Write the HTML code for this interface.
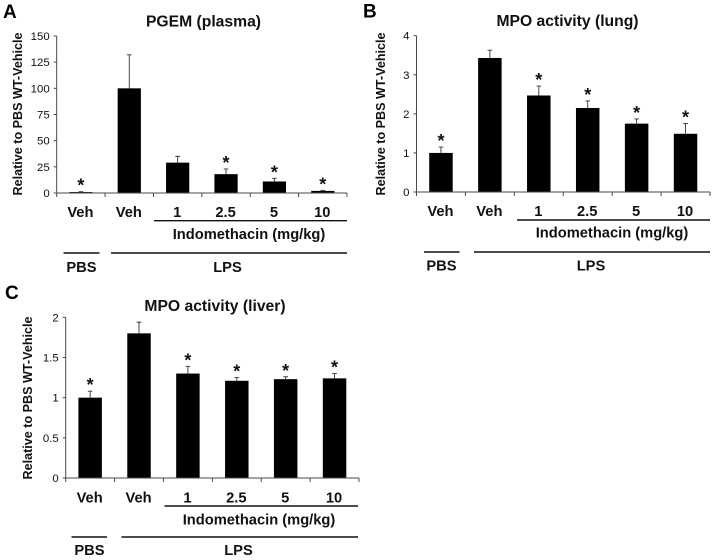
<!DOCTYPE html>
<html lang="en">
<head>
<meta charset="utf-8">
<title>PGEM and MPO activity charts</title>
<style>
  html,body{margin:0;padding:0;background:#fff;width:714px;height:560px;overflow:hidden}
  svg{display:block;font-family:"Liberation Sans",Arial,sans-serif;filter:blur(0.3px)}
  text{fill:#111}
  .b{font-weight:bold}
  .lbl{font-weight:bold;font-size:14.7px;text-anchor:middle}
  .ttl{font-weight:bold;font-size:15.7px;text-anchor:middle}
  .yt{font-weight:bold;font-size:12.6px;text-anchor:middle}
  .let{font-weight:bold;font-size:19px;fill:#000}
  .rule{stroke:#111;stroke-width:1.4}
</style>
</head>
<body>
<svg id="fig" xmlns="http://www.w3.org/2000/svg" width="714" height="560" viewBox="0 0 714 560">
  <g id="panel-a">
    <text class="let" x="3" y="18">A</text>
    <text class="ttl" x="203.5" y="26.3">PGEM (plasma)</text>
    <text class="yt" transform="translate(22,114) rotate(-90)">Relative to PBS WT-Vehicle</text>
    <line class="rule" x1="154" x2="347" y1="220.7" y2="220.7"/>
    <text class="lbl" x="249" y="239">Indomethacin (mg/kg)</text>
    <line class="rule" x1="63.5" x2="99.5" y1="253" y2="253"/>
    <line class="rule" x1="111" x2="347" y1="253" y2="253"/>
    <text class="lbl" x="81.5" y="272">PBS</text>
    <text class="lbl" x="227.5" y="272">LPS</text>
  </g>
  <g id="panel-b">
    <text class="let" x="363" y="17.5">B</text>
    <text class="ttl" x="567.5" y="26">MPO activity (lung)</text>
    <text class="yt" transform="translate(385,114) rotate(-90)">Relative to PBS WT-Vehicle</text>
    <line class="rule" x1="517" x2="710" y1="220" y2="220"/>
    <text class="lbl" x="612" y="237.5">Indomethacin (mg/kg)</text>
    <line class="rule" x1="424" x2="459.5" y1="252" y2="252"/>
    <line class="rule" x1="474" x2="710" y1="252" y2="252"/>
    <text class="lbl" x="441.5" y="270.5">PBS</text>
    <text class="lbl" x="591" y="270.5">LPS</text>
  </g>
  <g id="panel-c">
    <text class="let" x="5" y="299">C</text>
    <text class="ttl" x="215" y="311">MPO activity (liver)</text>
    <text class="yt" transform="translate(32,398) rotate(-90)">Relative to PBS WT-Vehicle</text>
    <line class="rule" x1="164.5" x2="358" y1="506" y2="506"/>
    <text class="lbl" x="259" y="524.5">Indomethacin (mg/kg)</text>
    <line class="rule" x1="71.5" x2="107" y1="537" y2="537"/>
    <line class="rule" x1="121.5" x2="358" y1="537" y2="537"/>
    <text class="lbl" x="89.5" y="555">PBS</text>
    <text class="lbl" x="238.5" y="555">LPS</text>
  </g>
</svg>
<script>
// Shared categories
const categories = ["Veh", "Veh", "1", "2.5", "5", "10"];

// Panel A: PGEM (plasma)
const plasmaTicks = ["0", "25", "50", "75", "100", "125", "150"];
const plasmaValues = [0.9, 100, 29, 18, 11, 2];
const plasmaErrors = [0.3, 32, 6, 5, 3, 0.6];
const plasmaStars = [1, 0, 0, 1, 1, 1];

// Panel B: MPO activity (lung)
const lungTicks = ["0", "1", "2", "3", "4"];
const lungValues = [1, 3.43, 2.47, 2.15, 1.75, 1.49];
const lungErrors = [0.15, 0.2, 0.24, 0.18, 0.12, 0.26];
const lungStars = [1, 0, 1, 1, 1, 1];

// Panel C: MPO activity (liver)
const liverTicks = ["0", "0.5", "1", "1.5", "2"];
const liverValues = [1, 1.8, 1.3, 1.21, 1.23, 1.24];
const liverErrors = [0.08, 0.14, 0.09, 0.04, 0.03, 0.06];
const liverStars = [1, 0, 1, 1, 1, 1];

const SVGNS = "http://www.w3.org/2000/svg";
function make(parent, tag, attrs, txt) {
  const n = document.createElementNS(SVGNS, tag);
  for (const k in attrs) n.setAttribute(k, attrs[k]);
  if (txt !== undefined) n.textContent = txt;
  parent.appendChild(n);
  return n;
}

function drawPanel(id, ticks, values, errors, stars, frame) {
  const g = document.getElementById(id);
  const max = parseFloat(ticks[ticks.length - 1]);
  const band = (frame.right - frame.left) / categories.length;
  const xScale = i => frame.left + band * (i + 0.5);
  const yScale = v => frame.base - (v / max) * (frame.base - frame.top);
  const axisColor = "#4a4a4a";

  values.forEach((v, i) => {
    const cx = xScale(i), w = band * 0.48;
    const top = yScale(v), errTop = yScale(v + errors[i]);

    const err = make(g, "path", {
      d: "M" + cx + " " + top + "V" + errTop + "M" + (cx - 2.3) + " " + errTop + "H" + (cx + 2.3),
      stroke: "#333", "stroke-width": 0.9, fill: "none"
    });
    
    

    const bar = make(g, "rect", {
      x: cx - w / 2, y: top, width: w, height: frame.base - top, fill: "#000"
    });
    
    

    if (stars[i]) {
      const star = make(g, "text", {
        x: cx, y: errTop, "text-anchor": "middle",
        "font-size": 18, "font-weight": "bold"
      }, "*");
      
      
    }

    const cat = make(g, "text", {
      class: "lbl", x: cx - 0.5, y: frame.catY
    }, categories[i]);
    
    
  });

  ticks.forEach(t => {
    const y = yScale(parseFloat(t));
    const tm = make(g, "line", {
      x1: frame.left - 3, x2: frame.left, y1: y, y2: y, stroke: axisColor, "stroke-width": 1
    });
    
    
    const tl = make(g, "text", {
      x: frame.left - 7, y: y + 4, "text-anchor": "end", "font-size": 11.4
    }, t);
    
    
  });

  for (let i = 0; i <= categories.length; i++) {
    const x = frame.left + band * i;
    const xt = make(g, "line", {
      x1: x, x2: x, y1: frame.base, y2: frame.base + 4, stroke: axisColor, "stroke-width": 1
    });
    
    
  }

  const ya = make(g, "line", {
    x1: frame.left, x2: frame.left, y1: frame.top, y2: frame.base, stroke: axisColor, "stroke-width": 1
  });
  
  

  const xa = make(g, "line", {
    x1: frame.left, x2: frame.right, y1: frame.base, y2: frame.base, stroke: axisColor, "stroke-width": 1
  });
  
  
}

drawPanel("panel-a", plasmaTicks, plasmaValues, plasmaErrors, plasmaStars,
  {left: 56.7, right: 347, top: 36, base: 193, catY: 217});
drawPanel("panel-b", lungTicks, lungValues, lungErrors, lungStars,
  {left: 416.5, right: 710, top: 35.7, base: 192, catY: 216});
drawPanel("panel-c", liverTicks, liverValues, liverErrors, liverStars,
  {left: 65.7, right: 359, top: 317.3, base: 478, catY: 502.5});
</script>
</body>
</html>
